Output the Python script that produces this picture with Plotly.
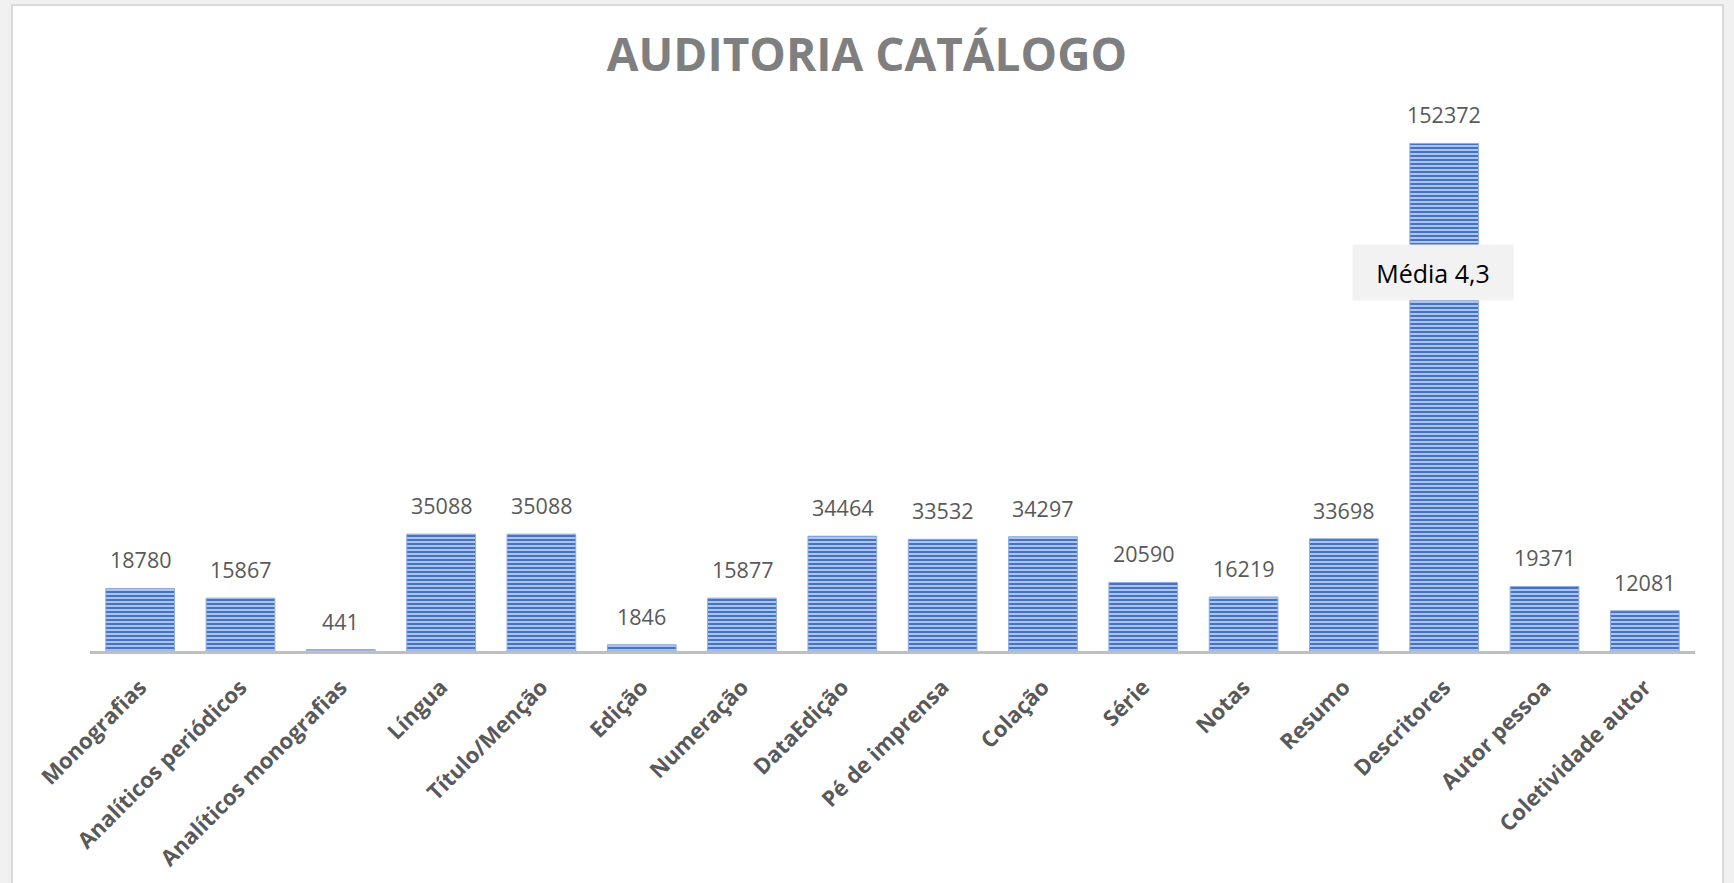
import plotly.graph_objects as go

categories = ["Monografias", "Analíticos periódicos", "Analíticos monografias", "Língua",
              "Título/Menção", "Edição", "Numeração", "DataEdição", "Pé de imprensa",
              "Colação", "Série", "Notas", "Resumo", "Descritores", "Autor pessoa",
              "Coletividade autor"]
values = [18780, 15867, 441, 35088, 35088, 1846, 15877, 34464, 33532, 34297,
          20590, 16219, 33698, 152372, 19371, 12081]
title_text = "AUDITORIA CATÁLOGO"
note_text = "Média 4,3"
note_category = "Descritores"
note_value = 113500

W, H = 1734, 883
ml, mr, mt, mb = 90, 39, 118, 232
pw, ph = W - ml - mr, H - mt - mb

fig = go.Figure()
fig.add_trace(go.Bar(
    x=categories, y=values,
    marker=dict(
        color="#4472c4",
        line=dict(color="#8faadc", width=1),
        pattern=dict(shape="-", fgcolor="#4472c4", bgcolor="#afc4ea",
                     size=4, solidity=0.5, fillmode="replace"),
    ),
    hoverinfo="x+y",
))

annotations = []
for c, v in zip(categories, values):
    annotations.append(dict(
        x=c, y=v, xref="x", yref="y", text=str(v), showarrow=False,
        yanchor="bottom", yshift=12,
        font=dict(family="Open Sans", size=21.5, color="#595959"),
    ))
annotations.append(dict(
    x=note_category, y=note_value, xref="x", yref="y", text=note_text,
    showarrow=False, xshift=-11, bgcolor="#f2f2f2", borderpad=12,
    width=136, height=31,
    font=dict(family="Open Sans", size=25, color="#000000"),
))

def px_to_paper_x(px):
    return (px - ml) / pw

def px_to_paper_y(py):
    return (H - mb - py) / ph

fig.update_layout(
    width=W, height=H,
    margin=dict(l=ml, r=mr, t=mt, b=mb),
    paper_bgcolor="#f0f0f0",
    plot_bgcolor="white",
    showlegend=False,
    bargap=0.315,
    title=dict(text=title_text, x=0.5, xref="container", xanchor="center",
               y=1 - 55 / H, yref="container", yanchor="middle",
               font=dict(family="Open Sans", size=46, color="#7f7f7f", weight=700)),
    xaxis=dict(showline=True, linecolor="#bfbfbf", linewidth=2.5, ticks="",
               tickangle=-45, showgrid=False, zeroline=False,
               ticklabelstandoff=12,
               tickfont=dict(family="Open Sans", size=22, color="#595959", weight=700)),
    yaxis=dict(range=[0, 160000], showgrid=False, zeroline=False,
               showticklabels=False, showline=False, ticks=""),
    annotations=annotations,
    shapes=[dict(type="rect", xref="paper", yref="paper", layer="below",
                 x0=px_to_paper_x(12), x1=px_to_paper_x(1723),
                 y0=px_to_paper_y(900), y1=px_to_paper_y(5),
                 fillcolor="white", line=dict(color="#d9d9d9", width=2))],
)

fig.write_html("out.html", config={"displayModeBar": False},
               post_script="document.body.style.margin='0';")
